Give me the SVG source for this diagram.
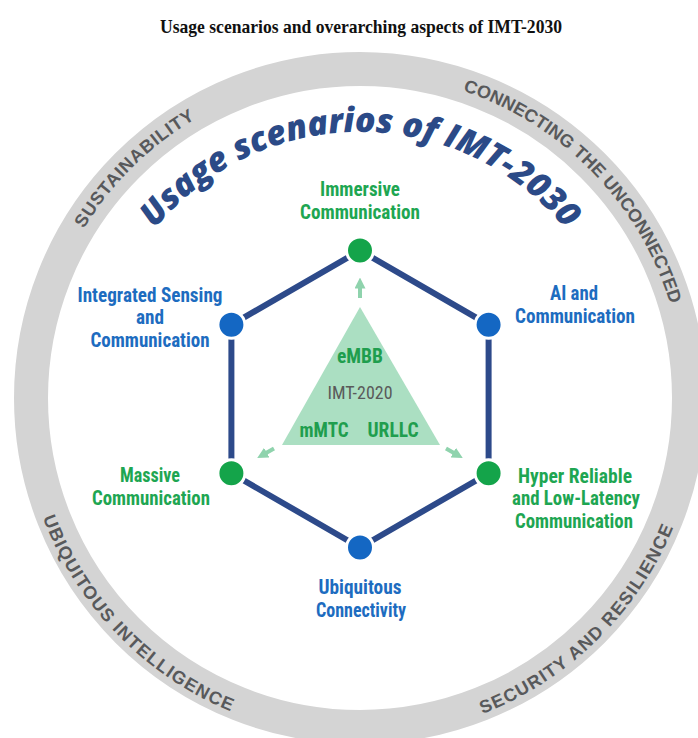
<svg xmlns="http://www.w3.org/2000/svg" width="698" height="738" viewBox="0 0 698 738">
<style>
.ring{fill:none;stroke:#d4d4d4;stroke-width:34}
.rt{font-family:"Liberation Sans",Arial,sans-serif;font-weight:bold;font-size:18px;fill:#58595b}
.ttl{font-family:"Liberation Serif","Times New Roman",serif;font-weight:bold;font-size:19px;fill:#111}
.arc{font-family:"Open Sans","Liberation Sans",sans-serif;font-weight:800;font-style:italic;font-size:34px;fill:#2b4a87}
.lb{font-family:"Liberation Sans Narrow","Roboto Condensed","Liberation Sans",sans-serif;font-weight:bold;font-size:19.5px;text-anchor:middle}
.blue{fill:#1d6cc0}
.green{fill:#1ea652}
.edge{stroke:#2d4a8a;stroke-width:6;fill:none}
.nb{fill:#1467c3;stroke:#fff;stroke-width:3}
.ng{fill:#14a44a;stroke:#fff;stroke-width:3}
.tri{fill:#abdfc2}
.tg{font-family:"Liberation Sans Narrow","Roboto Condensed","Liberation Sans",sans-serif;font-weight:bold;font-size:20px;text-anchor:middle;fill:#1f9e4e}
.tgr{font-family:"Liberation Sans Narrow","Roboto Condensed","Liberation Sans",sans-serif;font-size:18px;text-anchor:middle;fill:#5a5a5a}
.ar{stroke:#8fd3ad;stroke-width:4;fill:none}
</style>
<defs>
<marker id="ah" viewBox="0 0 10 10" refX="5" refY="5" markerWidth="11" markerHeight="11" markerUnits="userSpaceOnUse" orient="auto">
<path d="M0,0 L10,5 L0,10 z" fill="#8fd3ad"/>
</marker>
<path id="pSus" d="M83.8,228.7 A324,324 0 0 1 195.6,118.8"/>
<path id="pCon" d="M462.8,90.8 A324,324 0 0 1 670.2,304.4"/>
<path id="pUbi" d="M42.9,517.8 A339,339 0 0 0 230.8,711.4"/>
<path id="pSec" d="M482.6,714 A339,339 0 0 0 673.4,527.2"/>
<path id="pTitle" d="M154.7,228.8 A266,266 0 0 1 565.3,228.8"/>
</defs>

<text class="ttl" x="361" y="33" text-anchor="middle" textLength="402" lengthAdjust="spacingAndGlyphs">Usage scenarios and overarching aspects of IMT-2030</text>

<g id="ring">
<circle class="ring" cx="360" cy="398" r="329"/>
<text class="rt"><textPath href="#pSus" textLength="158" lengthAdjust="spacing">SUSTAINABILITY</textPath></text>
<text class="rt"><textPath href="#pCon" textLength="309" lengthAdjust="spacing">CONNECTING THE UNCONNECTED</textPath></text>
<text class="rt"><textPath href="#pUbi" textLength="277" lengthAdjust="spacing">UBIQUITOUS INTELLIGENCE</textPath></text>
<text class="rt"><textPath href="#pSec" textLength="274" lengthAdjust="spacing">SECURITY AND RESILIENCE</textPath></text>
</g>

<g id="title-arc">
<text class="arc"><textPath href="#pTitle" textLength="469" lengthAdjust="spacing">Usage scenarios of IMT-2030</textPath></text>
</g>

<g id="connectors">
<polygon class="edge" points="360,250.5 488.6,324.8 488.6,473.3 360,547.5 231.4,473.3 231.4,324.8"/>
</g>

<g id="imt2020">
<polygon class="tri" points="360,307 282,445 440,445"/>
<text class="tg" x="360" y="363" textLength="46" lengthAdjust="spacingAndGlyphs">eMBB</text>
<text class="tgr" x="360" y="399" textLength="65" lengthAdjust="spacingAndGlyphs">IMT-2020</text>
<text class="tg" x="324" y="437" textLength="49" lengthAdjust="spacingAndGlyphs">mMTC</text>
<text class="tg" x="393" y="437" textLength="51" lengthAdjust="spacingAndGlyphs">URLLC</text>
<line class="ar" x1="360" y1="298" x2="360" y2="283" marker-end="url(#ah)"/>
<line class="ar" x1="274" y1="448.5" x2="262" y2="455.3" marker-end="url(#ah)"/>
<line class="ar" x1="446" y1="448.5" x2="458" y2="455.3" marker-end="url(#ah)"/>
</g>

<g id="node-immersive">
<circle class="ng" cx="360" cy="250.5" r="13.5"/>
<text class="lb green" x="360" y="196" textLength="80" lengthAdjust="spacingAndGlyphs">Immersive</text>
<text class="lb green" x="360" y="219" textLength="120" lengthAdjust="spacingAndGlyphs">Communication</text>
</g>

<g id="node-ai">
<circle class="nb" cx="488.6" cy="324.8" r="13.5"/>
<text class="lb blue" x="574" y="300" textLength="48" lengthAdjust="spacingAndGlyphs">AI and</text>
<text class="lb blue" x="575" y="323" textLength="120" lengthAdjust="spacingAndGlyphs">Communication</text>
</g>

<g id="node-hrllc">
<circle class="ng" cx="488.6" cy="473.3" r="13.5"/>
<text class="lb green" x="575" y="483" textLength="114" lengthAdjust="spacingAndGlyphs">Hyper Reliable</text>
<text class="lb green" x="576" y="505" textLength="128" lengthAdjust="spacingAndGlyphs">and Low-Latency</text>
<text class="lb green" x="574" y="528" textLength="118" lengthAdjust="spacingAndGlyphs">Communication</text>
</g>

<g id="node-ubiquitous">
<circle class="nb" cx="360" cy="547.5" r="13.5"/>
<text class="lb blue" x="360" y="594" textLength="83" lengthAdjust="spacingAndGlyphs">Ubiquitous</text>
<text class="lb blue" x="361" y="617" textLength="90" lengthAdjust="spacingAndGlyphs">Connectivity</text>
</g>

<g id="node-massive">
<circle class="ng" cx="231.4" cy="473.3" r="13.5"/>
<text class="lb green" x="150" y="482" textLength="60" lengthAdjust="spacingAndGlyphs">Massive</text>
<text class="lb green" x="151" y="505" textLength="118" lengthAdjust="spacingAndGlyphs">Communication</text>
</g>

<g id="node-isac">
<circle class="nb" cx="231.4" cy="324.8" r="13.5"/>
<text class="lb blue" x="150" y="302" textLength="145" lengthAdjust="spacingAndGlyphs">Integrated Sensing</text>
<text class="lb blue" x="150" y="324" textLength="28" lengthAdjust="spacingAndGlyphs">and</text>
<text class="lb blue" x="150" y="347" textLength="119" lengthAdjust="spacingAndGlyphs">Communication</text>
</g>
</svg>
